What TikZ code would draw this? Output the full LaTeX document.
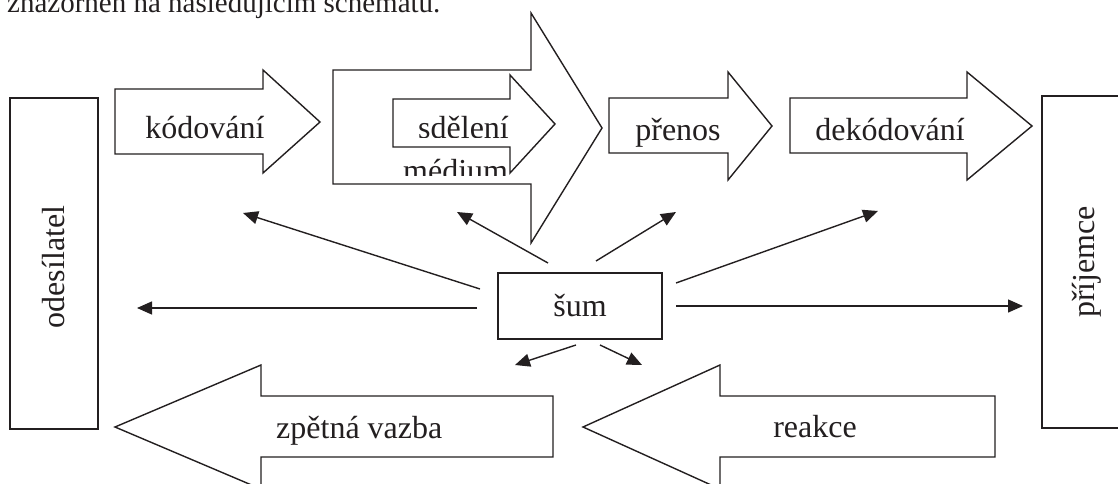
\documentclass[tikz,border=0pt]{standalone}
\usepackage{fontspec}
\setmainfont{Liberation Serif}
\usetikzlibrary{arrows.meta}
\definecolor{ink}{HTML}{231F20}
\begin{document}
\begin{tikzpicture}[x=1pt,y=-1pt,
  blockarrow/.style={draw=ink,line width=1.4pt,fill=white,line join=miter},
  lbl/.style={text=ink,font=\fontsize{32}{38}\selectfont,inner sep=0pt},
  noise/.style={draw=ink,line width=1.4pt,-{Triangle[length=15pt,width=13pt]}}]
\useasboundingbox (0,0) rectangle (1118,484);

% running text above the scheme
\node[lbl,font=\fontsize{29}{34}\selectfont,anchor=base west] (intro) at (7,13)
  {znázorněn na následujícím schématu.};

% sender and receiver
\draw[blockarrow] (10,98) rectangle (98,429);
\node[lbl,rotate=90] (sender) at (54,267) {odesílatel};
\draw[blockarrow] (1042,96) rectangle (1135,428);
\node[lbl,rotate=90] (receiver) at (1087,262) {příjemce};

% forward chain
\draw[blockarrow] (115,89) -- (263,89) -- (263,70) -- (320,122) -- (263,173) -- (263,154) -- (115,154) -- cycle;
\node[lbl,anchor=base] (coding) at (205,139) {kódování};

\draw[blockarrow] (333,70) -- (531,70) -- (531,13) -- (602,128) -- (531,243) -- (531,184) -- (333,184) -- cycle;
\draw[blockarrow] (393,99) -- (510,99) -- (510,75) -- (555,124) -- (510,173) -- (510,147) -- (393,147) -- cycle;
\begin{scope}
  \clip (395,100) rectangle (509,137);
  \node[lbl,anchor=base west] (message) at (418,139) {sdělení};
\end{scope}
\begin{scope}
  \clip (395,149) rectangle (509,175);
  \node[lbl,anchor=base west] (medium) at (403,181) {médium};
\end{scope}

\draw[blockarrow] (609,98) -- (728,98) -- (728,72) -- (772,126) -- (728,180) -- (728,153) -- (609,153) -- cycle;
\node[lbl,anchor=base] (transfer) at (678,140) {přenos};

\draw[blockarrow] (790,98) -- (967,98) -- (967,72) -- (1032,126) -- (967,180) -- (967,153) -- (790,153) -- cycle;
\node[lbl,anchor=base] (decoding) at (890,140) {dekódování};

% backward chain
\draw[blockarrow] (553,396) -- (261,396) -- (261,365) -- (115,427) -- (261,489) -- (261,457) -- (553,457) -- cycle;
\node[lbl,anchor=base west] (feedback) at (276,438) {zpětná vazba};

\draw[blockarrow] (995,396) -- (720,396) -- (720,365) -- (583,427) -- (720,489) -- (720,457) -- (995,457) -- cycle;
\node[lbl,anchor=base] (reaction) at (815,437) {reakce};

% noise
\node[lbl,draw=ink,line width=1.4pt,minimum width=164pt,minimum height=66pt] (noise) at (580,306) {šum};

\coordinate (nW)  at (477,308); \coordinate (tW)  at (137,308);
\coordinate (nNW) at (480,289); \coordinate (tNW) at (243,213);
\coordinate (nN1) at (548,263); \coordinate (tN1) at (457,212);
\coordinate (nN2) at (596,261); \coordinate (tN2) at (676,212);
\coordinate (nNE) at (676,283); \coordinate (tNE) at (878,211);
\coordinate (nE)  at (676,306); \coordinate (tE)  at (1023,306);
\coordinate (nS1) at (576,345); \coordinate (tS1) at (515,365);
\coordinate (nS2) at (600,345); \coordinate (tS2) at (642,365);

\draw[noise] (nW) -- (tW);
\draw[noise] (nNW) -- (tNW);
\draw[noise] (nN1) -- (tN1);
\draw[noise] (nN2) -- (tN2);
\draw[noise] (nNE) -- (tNE);
\draw[noise] (nE) -- (tE);
\draw[noise] (nS1) -- (tS1);
\draw[noise] (nS2) -- (tS2);
\end{tikzpicture}
\end{document}
